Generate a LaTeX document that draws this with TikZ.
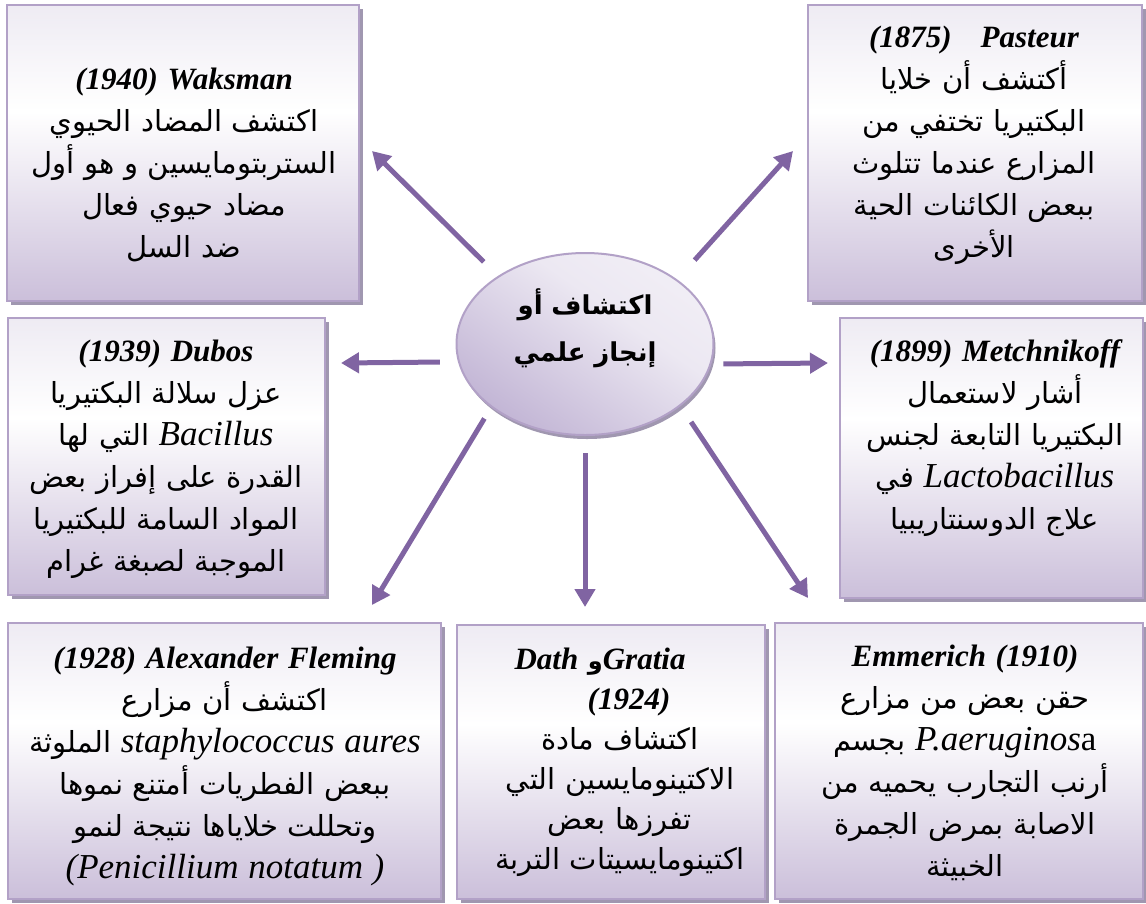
\documentclass[tikz,border=0pt]{standalone}
\usepackage{fontspec}
\setmainfont{Liberation Serif}
\newfontfamily\arabicfont[Script=Arabic]{DejaVu Sans}
\TeXXeTstate=1
\usetikzlibrary{shapes.geometric,arrows.meta,shadows}

\definecolor{arrowc}{RGB}{128,100,162}
\definecolor{boxline}{RGB}{178,161,199}
\definecolor{boxtop}{RGB}{238,235,243}
\definecolor{boxbot}{RGB}{203,191,218}
\definecolor{shadowc}{RGB}{160,151,176}
\definecolor{elltop}{RGB}{236,232,242}
\definecolor{ellbot}{RGB}{194,181,213}

\pgfdeclareverticalshading{panelshade}{100bp}{color(0bp)=(boxbot); color(25bp)=(boxbot); color(57bp)=(white); color(75bp)=(boxtop); color(100bp)=(boxtop)}
\pgfdeclareverticalshading{hubshade}{100bp}{color(0bp)=(ellbot); color(25bp)=(ellbot); color(60bp)=(elltop); color(75bp)=(elltop!75!white); color(100bp)=(elltop!75!white)}

% Arabic line, Latin italic words, bold italic headings
\newcommand\ar[1]{{\arabicfont\fontsize{29}{42}\selectfont\beginR #1\endR}}
\newcommand\la[1]{{\rmfamily\itshape\fontsize{35}{42}\selectfont #1}}
\newcommand\up[1]{{\rmfamily\upshape\fontsize{35}{42}\selectfont #1}}
\newcommand\hd[1]{{\rmfamily\bfseries\itshape\fontsize{31}{42}\selectfont #1}}

\tikzset{
  panel/.style={draw=boxline, line width=1.6pt, shading=panelshade, inner sep=0pt,
    drop shadow={shadow xshift=4pt, shadow yshift=-4pt, fill=shadowc, opacity=1}},
  txt/.style={inner sep=0pt, align=center, anchor=north, font=\fontsize{29}{42}\selectfont},
  hub/.style={ellipse, draw=boxline, line width=2pt, shading=hubshade, shading angle=-35,
    minimum width=257pt, minimum height=182pt, inner sep=0pt,
    drop shadow={shadow xshift=2pt, shadow yshift=-4pt, fill=shadowc, opacity=1}},
  arr/.style={draw=arrowc, line width=5pt, -{Triangle[length=18pt,width=20pt]}}
}

\begin{document}
\begin{tikzpicture}[x=1pt, y=-1pt]
\useasboundingbox (0,0) rectangle (1146,903);

% panels
\node[panel, minimum width=352pt, minimum height=296pt] (bW) at (183,153) {};
\node[panel, minimum width=334pt, minimum height=296pt] (bP) at (975,153) {};
\node[panel, minimum width=317pt, minimum height=277pt] (bD) at (166.5,456.5) {};
\node[panel, minimum width=303pt, minimum height=280pt] (bM) at (991.5,458) {};
\node[panel, minimum width=433pt, minimum height=276pt] (bF) at (224.5,761) {};
\node[panel, minimum width=308pt, minimum height=274pt] (bG) at (611,762) {};
\node[panel, minimum width=368pt, minimum height=276pt] (bE) at (959,761) {};

% central ellipse
\node[hub] (hub) at (585,344) {};
\node[inner sep=0pt, align=center, text width=160pt,
      font=\arabicfont\bfseries\fontsize{26}{47}\selectfont] (hubtxt) at (585,328)
  {\beginR اكتشاف أو\endR\\ \beginR إنجاز علمي\endR};

% panel texts
\node[txt, text width=345pt] (xW) at (184,68)
  {\hd{(1940) Waksman}\\ \ar{اكتشف المضاد الحيوي}\\ \ar{الستربتومايسين و هو أول}\\ \ar{مضاد حيوي فعال}\\ \ar{ضد السل}};
\node[txt, text width=330pt] (xP) at (974,26)
  {\hd{(1875)\ \ \ Pasteur}\\ \ar{أكتشف أن خلايا}\\ \ar{البكتيريا تختفي من}\\ \ar{المزارع عندما تتلوث}\\ \ar{ببعض الكائنات الحية}\\ \ar{الأخرى}};
\node[txt, text width=315pt] (xD) at (166,340)
  {\hd{(1939) Dubos}\\ \ar{عزل سلالة البكتيريا}\\ \ar{\beginL\la{Bacillus}\endL{} التي لها}\\ \ar{القدرة على إفراز بعض}\\ \ar{المواد السامة للبكتيريا}\\ \ar{الموجبة لصبغة غرام}};
\node[txt, text width=300pt] (xM) at (995,339)
  {\hd{(1899) Metchnikoff}\\ \ar{أشار لاستعمال}\\ \ar{البكتيريا التابعة لجنس}\\ \ar{\beginL\la{Lactobacillus}\endL{} في}\\ \ar{علاج الدوسنتاريبيا}};
\node[txt, text width=428pt] (xF) at (225,647)
  {\hd{(1928) Alexander Fleming}\\ \ar{اكتشف أن مزارع}\\ \ar{\beginL\la{staphylococcus aures}\endL{} الملوثة}\\ \ar{ببعض الفطريات أمتنع نموها}\\ \ar{وتحللت خلاياها نتيجة لنمو}\\ \la{(Penicillium notatum )}};
\node[txt, text width=304pt, font=\fontsize{29}{40}\selectfont] (xG) at (620,648)
  {\hd{Dath {\arabicfont\upshape\bfseries\fontsize{24}{40}\selectfont و}Gratia}\hbox to 40pt{}\\ \leavevmode\hbox to 18pt{}\hd{(1924)}\\ \ar{اكتشاف مادة}\\ \ar{الاكتينومايسين التي}\\ \ar{تفرزها بعض}\\ \ar{اكتينومايسيتات التربة}};
\node[txt, text width=364pt] (xE) at (965,645)
  {\hd{Emmerich (1910)}\\ \ar{حقن بعض من مزارع}\\ \ar{\beginL\la{P.aeruginos}\up{a}\endL{} بجسم}\\ \ar{أرنب التجارب يحميه من}\\ \ar{الاصابة بمرض الجمرة}\\ \ar{الخبيثة}};

% arrow tips
\coordinate (tW) at (372,151);
\coordinate (tP) at (793,151);
\coordinate (tD) at (341,363);
\coordinate (tM) at (828,363);
\coordinate (tF) at (372,605);
\coordinate (tG) at (585,607);
\coordinate (tE) at (808,598);

% arrows from the hub
\draw[arr, shorten <=20pt] (hub.142.5) -- (tW);
\draw[arr, shorten <=26pt] (hub.35.2) -- (tP);
\draw[arr, shorten <=18pt] (hub.188.6) -- (tD);
\draw[arr, shorten <=12pt] (hub.351.4) -- (tM);
\draw[arr, shorten <=13pt] (hub.214.6) -- (tF);
\draw[arr, shorten <=17pt] (hub.south) -- (tG);
\draw[arr, shorten <=19pt] (hub.327.6) -- (tE);
\end{tikzpicture}
\end{document}
